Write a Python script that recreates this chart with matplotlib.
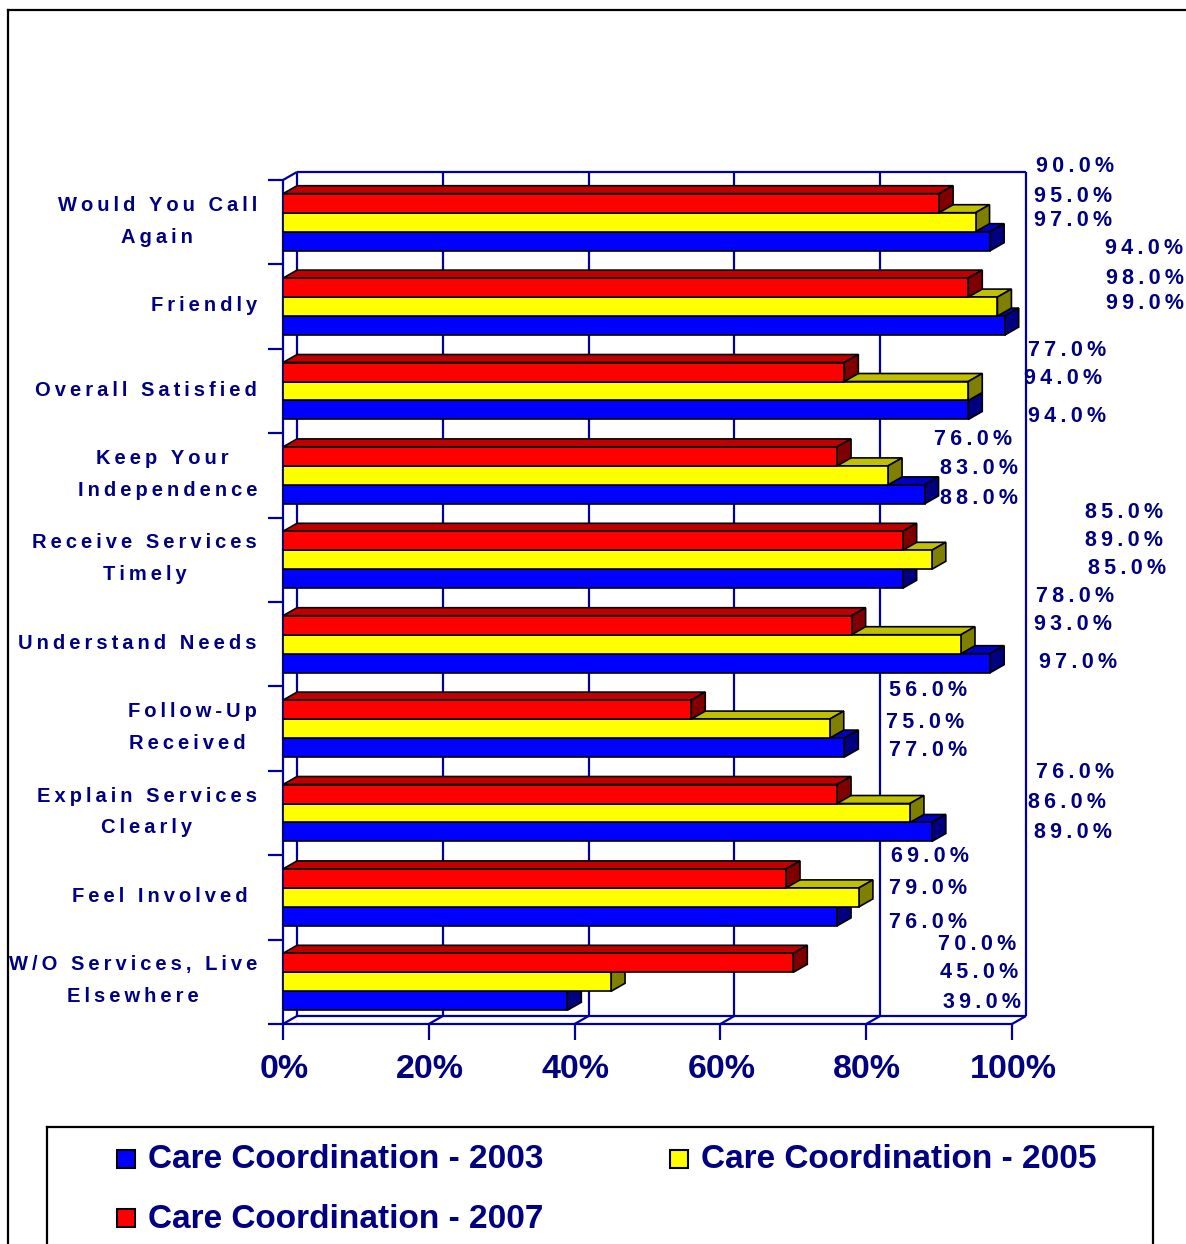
import matplotlib
matplotlib.use("Agg")
import matplotlib.pyplot as plt
from matplotlib.patches import Polygon, Rectangle
from matplotlib.lines import Line2D

# ---------------- data ----------------
categories = ["Would You Call\nAgain", "Friendly", "Overall Satisfied",
              "Keep Your \nIndependence", "Receive Services\nTimely",
              "Understand Needs", "Follow-Up\nReceived ", "Explain Services\nClearly",
              "Feel Involved ", "W/O Services, Live\nElsewhere"]
v2003 = [97, 99, 94, 88, 85, 97, 77, 89, 76, 39]
v2005 = [95, 98, 94, 83, 89, 93, 75, 86, 79, 45]
v2007 = [90, 94, 77, 76, 85, 78, 56, 76, 69, 70]
series_names = ["Care Coordination - 2003", "Care Coordination - 2005",
                "Care Coordination - 2007"]
xticks = [0, 20, 40, 60, 80, 100]
xtick_labels = ["0%", "20%", "40%", "60%", "80%", "100%"]

# ---------------- layout (pixels) ----------------
W, H = 1186, 1244
X0, X1, YT, YB = 283, 1012, 180, 1024
# data-label positions (x, y) for 2007, 2005, 2003 of each category
label_pos = [
    [(1075, 167), (1073, 196), (1073, 221)],
    [(1144, 249), (1145, 278), (1145, 303)],
    [(1067, 351), (1063, 378), (1067, 416)],
    [(973, 439), (979, 468), (979, 498)],
    [(1124, 512), (1124, 541), (1127, 569)],
    [(1075, 597), (1073, 625), (1078, 662)],
    [(928, 691), (925, 722), (928, 750)],
    [(1075, 773), (1067, 802), (1073, 832)],
    [(930, 857), (928, 889), (928, 922)],
    [(977, 945), (979, 973), (982, 1002)],
]

NAVY = "#000080"
LINE = "#0000A0"
FONT = ["Liberation Sans", "DejaVu Sans"]


def fx(px):
    return px / W


def fy(py):
    return 1 - py / H


def spaced(s, sp="\u2009"):
    return "\n".join(sp.join(list(line)) for line in s.split("\n"))


fig = plt.figure(figsize=(W / 100, H / 100), dpi=100)
fig.patch.set_facecolor("white")

ax = fig.add_axes([fx(X0), fy(YB), (X1 - X0) / W, (YB - YT) / H])
ax.set_xlim(0, 100)
ax.set_ylim(10, 0)
ax.axis("off")

n = len(categories)
DX = 14 * 100 / (X1 - X0)
DY = 8 * n / (YB - YT)
lw = 1.6


def L(xs, ys, **kw):
    ax.plot(xs, ys, color=LINE, lw=lw, clip_on=False, solid_capstyle="butt", **kw)


# back wall frame and gridlines
L([DX, 100 + DX], [-DY, -DY])
L([100 + DX, 100 + DX], [-DY, n - DY])
L([DX, DX], [-DY, n - DY])
L([DX, 100 + DX], [n - DY, n - DY])
for t in xticks[1:-1]:
    L([t + DX, t + DX], [-DY, n - DY])
# front left axis, floor, connectors
L([0, 0], [0, n])
L([0, 100], [n, n])
L([0, DX], [0, -DY])
for t in xticks:
    L([t, t + DX], [n, n - DY])
    L([t, t], [n, n + 16 * n / (YB - YT)])
for i in range(n + 1):
    L([-15 * 100 / (X1 - X0), 0], [i, i])

# bars
h = 0.225
styles = [  # front, top, side
    ("#FF0000", "#C00000", "#800000"),
    ("#FFFF00", "#C0C000", "#808000"),
    ("#0000FF", "#0000C0", "#000080"),
]
series = [v2007, v2005, v2003]
for i in range(n):
    c = i + 0.5
    for k in [2, 1, 0]:
        v = series[k][i]
        yt = c - 1.5 * h + k * h
        yb = yt + h
        z = 10 + i * 10 + (3 - k) * 2
        front, top, side = styles[k]
        ax.barh(yt + h / 2, v, height=h, left=0, color=front, edgecolor="black",
                linewidth=1.2, zorder=z + 1)
        ax.add_patch(Polygon([(0, yt), (v, yt), (v + DX, yt - DY), (DX, yt - DY)],
                             closed=True, facecolor=top, edgecolor="black",
                             linewidth=1.2, zorder=z, clip_on=False))
        ax.add_patch(Polygon([(v, yt), (v, yb), (v + DX, yb - DY), (v + DX, yt - DY)],
                             closed=True, facecolor=side, edgecolor="black",
                             linewidth=1.2, zorder=z, clip_on=False))

# category labels
for i, cat in enumerate(categories):
    cy = YT + (i + 0.5) * (YB - YT) / n - 1
    fig.text(fx(257), fy(cy), spaced(cat), ha="right", va="center",
             multialignment="center", fontsize=14.5, fontweight="bold",
             color=NAVY, family=FONT, linespacing=1.85)

# data labels
for i in range(n):
    for k in range(3):
        px, py = label_pos[i][k]
        fig.text(fx(px), fy(py), spaced(f"{series[k][i]:.1f}%"), ha="center",
                 va="center", fontsize=15.5, fontweight="bold", color=NAVY, family=FONT)

# x tick labels
for t, lab in zip(xticks, xtick_labels):
    px = X0 + t / 100 * (X1 - X0) + 1
    fig.text(fx(px), fy(1070), lab, ha="center", va="center", fontsize=24.5,
             fontweight="bold", color=NAVY, family=FONT)

# outer border
fig.add_artist(Line2D([fx(8), fx(8)], [fy(10), fy(1250)], color="black", lw=1.6))
fig.add_artist(Line2D([fx(8), fx(1190)], [fy(10), fy(10)], color="black", lw=1.6))

# legend box
fig.add_artist(Line2D([fx(47), fx(47)], [fy(1127), fy(1250)], color="black", lw=1.6))
fig.add_artist(Line2D([fx(47), fx(1153)], [fy(1127), fy(1127)], color="black", lw=1.6))
fig.add_artist(Line2D([fx(1153), fx(1153)], [fy(1127), fy(1250)], color="black", lw=1.6))

leg_items = [(series_names[0], "#0000FF", 117, 1159),
             (series_names[1], "#FFFF00", 670, 1159),
             (series_names[2], "#FF0000", 117, 1218)]
for name, col, lx, ly in leg_items:
    fig.add_artist(Rectangle((fx(lx), fy(ly + 9)), 18 / W, 18 / H, facecolor=col,
                             edgecolor="black", linewidth=1.5,
                             transform=fig.transFigure))
    fig.text(fx(lx + 31), fy(ly + 1), name, ha="left", va="center", fontsize=24,
             fontweight="bold", color=NAVY, family=FONT)

fig.savefig("out.png", dpi=100, facecolor="white")
